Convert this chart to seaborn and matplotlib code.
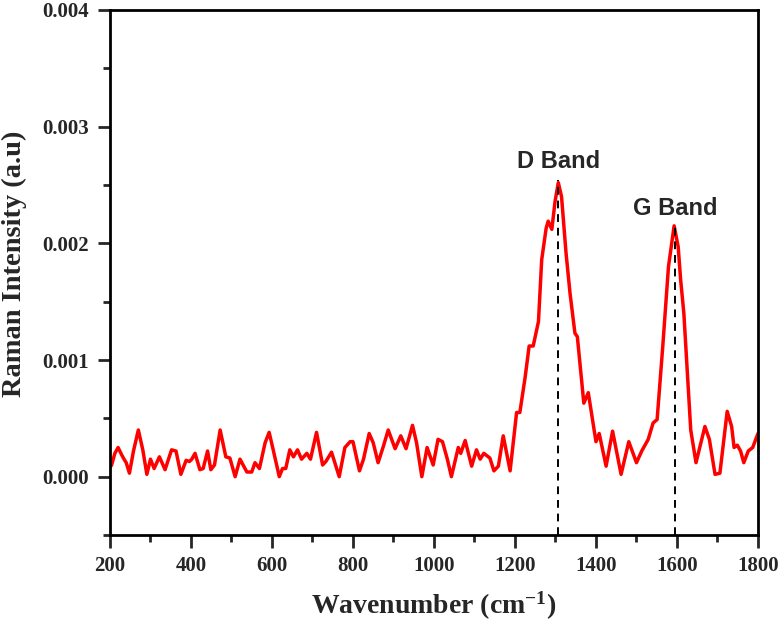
import matplotlib
matplotlib.use("Agg")
import matplotlib.pyplot as plt
import seaborn as sns
import pandas as pd
from matplotlib.ticker import MultipleLocator, FormatStrFormatter

wavenumber = [200, 204, 212, 220, 227, 233, 240, 248, 258, 270, 281, 291, 300, 309, 322, 336,
              352, 363, 375, 388, 396, 402, 410, 422, 430, 441, 449, 458, 472, 486, 496, 509,
              521, 538, 550, 558, 569, 583, 593, 603, 618, 626, 634, 644, 653, 663, 673, 686,
              695, 710, 725, 733, 747, 766, 780, 793, 800, 816, 826, 840, 850, 862, 875, 887,
              904, 918, 931, 947, 957, 970, 983, 998, 1010, 1021, 1033, 1043, 1060, 1066, 1077,
              1093, 1105, 1114, 1123, 1138, 1148, 1159, 1171, 1188, 1204, 1212, 1225, 1235, 1245,
              1258, 1266, 1277, 1282, 1291, 1299, 1307, 1315, 1326, 1336, 1348, 1354, 1370, 1381,
              1400, 1408, 1425, 1441, 1462, 1481, 1500, 1513, 1529, 1541, 1551, 1565, 1579, 1593,
              1603, 1609, 1617, 1634, 1647, 1669, 1680, 1694, 1706, 1724, 1735, 1741, 1749, 1757,
              1765, 1776, 1787, 1800]
intensity = [0.00008, 0.0001, 0.0002, 0.00025, 0.0002, 0.00016, 0.00012, 0.00003, 0.00022, 0.0004,
             0.00023, 0.00002, 0.00015, 0.00007, 0.00017, 0.00006, 0.00023, 0.00022, 0.00002,
             0.00014, 0.00013, 0.00015, 0.0002, 0.00006, 0.00007, 0.00022, 0.00006, 0.0001, 0.0004,
             0.00017, 0.00016, 0.0, 0.00015, 0.00004, 0.00004, 0.00012, 0.00007, 0.00029, 0.00038,
             0.00023, 0.0, 0.00007, 0.00007, 0.00023, 0.00017, 0.00023, 0.00015, 0.0002, 0.00015,
             0.00038, 0.0001, 0.00013, 0.00021, 0.0, 0.00025, 0.0003, 0.0003, 0.00005, 0.00015,
             0.00037, 0.00029, 0.00012, 0.00026, 0.0004, 0.00024, 0.00035, 0.00024, 0.00044,
             0.00029, 0.0, 0.00025, 0.0001, 0.00032, 0.0003, 0.00015, 0.0, 0.00025, 0.0002,
             0.00031, 0.00009, 0.00023, 0.00015, 0.0002, 0.00016, 0.00005, 0.00009, 0.00035,
             0.00005, 0.00055, 0.00055, 0.00085, 0.00112, 0.00112, 0.00133, 0.00186, 0.00213,
             0.00219, 0.00212, 0.00236, 0.00252, 0.0024, 0.00192, 0.00157, 0.00123, 0.0012,
             0.00063, 0.00072, 0.0003, 0.00037, 0.00009, 0.00039, 0.00002, 0.0003, 0.00012,
             0.00022, 0.00032, 0.00046, 0.00049, 0.00112, 0.0018, 0.00215, 0.00197, 0.00169,
             0.0014, 0.0004, 0.00012, 0.00043, 0.00032, 0.00002, 0.00003, 0.00056, 0.00043,
             0.00025, 0.00027, 0.00022, 0.00012, 0.00022, 0.00025, 0.00037]

band_labels = ["D Band", "G Band"]
band_positions = [1307, 1595]
band_peaks = [0.00254, 0.00216]
label_heights = [0.00270, 0.00230]

y_ticks = [0.000, 0.001, 0.002, 0.003, 0.004]
x_ticks = [200, 400, 600, 800, 1000, 1200, 1400, 1600, 1800]

df = pd.DataFrame({"Wavenumber": wavenumber, "Intensity": intensity})

sns.set_style("ticks")
plt.rcParams["font.family"] = ["Liberation Serif", "DejaVu Serif"]
plt.rcParams["font.weight"] = "bold"
plt.rcParams["mathtext.fontset"] = "custom"
plt.rcParams["mathtext.rm"] = "Liberation Serif:bold"
plt.rcParams["mathtext.bf"] = "Liberation Serif:bold"
plt.rcParams["mathtext.default"] = "rm"

fig = plt.figure(figsize=(7.79, 6.24), dpi=100)
ax = fig.add_axes([0.1412, 0.1426, 0.8318, 0.8414])

sns.lineplot(data=df, x="Wavenumber", y="Intensity", ax=ax, color="#ff0000",
             linewidth=2.5, estimator=None, sort=False)

ax.vlines(band_positions, -0.0005, band_peaks, colors="black",
          linestyles=(0, (4, 3)), linewidth=1.4)
for lab, xp, yp in zip(band_labels, band_positions, label_heights):
    ax.text(xp, yp, lab, ha="center", va="center", fontsize=17,
            fontweight="bold", family=["Liberation Sans", "DejaVu Sans"])

ax.set_xlim(200, 1800)
ax.set_ylim(-0.0005, 0.004)
ax.set_xticks(x_ticks)
ax.set_yticks(y_ticks)
ax.yaxis.set_major_formatter(FormatStrFormatter("%.3f"))
ax.xaxis.set_minor_locator(MultipleLocator(100))
ax.yaxis.set_minor_locator(MultipleLocator(0.0005))

for s in ax.spines.values():
    s.set_linewidth(2)
    s.set_color("black")

ax.tick_params(axis="both", which="major", length=9, width=2, labelsize=15,
               direction="out", pad=6, top=False, right=False)
ax.tick_params(axis="both", which="minor", length=5, width=2, direction="out",
               top=False, right=False)
for lbl in ax.get_xticklabels() + ax.get_yticklabels():
    lbl.set_fontweight("bold")

ax.set_xlabel(r"Wavenumber (cm$^{-1}$)", fontsize=20, fontweight="bold", labelpad=10)
ax.set_ylabel("Raman Intensity (a.u)", fontsize=20.5, fontweight="bold")
ax.yaxis.set_label_coords(-0.128, 0.516)

fig.savefig("out.png", dpi=100)
